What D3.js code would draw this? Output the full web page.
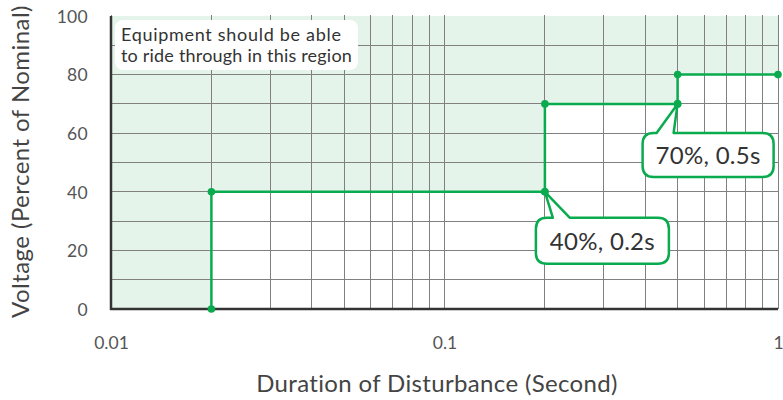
<!DOCTYPE html>
<html><head><meta charset="utf-8">
<script src="https://cdn.jsdelivr.net/npm/d3@7"></script>
<style>
body{margin:0;background:#fff;}
svg{display:block;font-family:Lato,"Noto Sans",sans-serif;}
</style></head>
<body><svg id="c" width="783" height="400"></svg>
<script>
// ---- data ----
const durations = [0.02, 0.02, 0.2, 0.2, 0.5, 0.5, 1];   // seconds
const voltages  = [0, 40, 40, 70, 70, 80, 80];           // percent of nominal
const xTicks = [0.01, 0.1, 1];
const xTickLabels = ["0.01", "0.1", "1"];
const yTicks = [0, 20, 40, 60, 80, 100];
const callouts = [
  {x: 0.5, y: 70, label: "70%, 0.5s"},
  {x: 0.2, y: 40, label: "40%, 0.2s"}
];
const regionText = ["Equipment should be able", "to ride through in this region"];
const xTitle = "Duration of Disturbance (Second)";
const yTitle = "Voltage (Percent of Nominal)";

// ---- layout ----
const W = 783, H = 400;
const m = {l: 111, r: 5, t: 16, b: 91};
const svg = d3.select("#c");
const x = d3.scaleLog().domain([0.01, 1]).range([m.l, W - m.r]);
const y = d3.scaleLinear().domain([0, 100]).range([H - m.b, m.t]);
const green = "#0aab4f";

// shaded region (above/left of the curve)
const pts = durations.map((d, i) => [d, voltages[i]]);
svg.append("path")
  .attr("d", d3.line().x(d => x(d[0])).y(d => y(d[1]))(
    [[0.01, 0]].concat(pts).concat([[1, 100], [0.01, 100]])))
  .attr("fill", "#e4f4ea");

// grid
const vGrid = [];
for (let dec of [0.01, 0.1]) for (let k = 1; k <= 10; k++) vGrid.push(dec * k);
svg.append("g").selectAll("line").data(vGrid).join("line")
  .attr("x1", d => x(d)).attr("x2", d => x(d))
  .attr("y1", y(100) - 1).attr("y2", y(0))
  .attr("stroke", "#808080").attr("stroke-width", 1).attr("shape-rendering", "crispEdges");
svg.append("g").selectAll("line").data(d3.range(10, 100, 10)).join("line")
  .attr("x1", x(0.01)).attr("x2", x(1))
  .attr("y1", d => y(d)).attr("y2", d => y(d))
  .attr("stroke", "#808080").attr("stroke-width", 1).attr("shape-rendering", "crispEdges");

// axes lines
svg.append("line").attr("x1", x(0.01)).attr("x2", x(0.01)).attr("y1", y(100)).attr("y2", y(0) + 1)
  .attr("stroke", "#333").attr("stroke-width", 2.5);
svg.append("line").attr("x1", x(0.01) - 1).attr("x2", x(1)).attr("y1", y(0)).attr("y2", y(0))
  .attr("stroke", "#333").attr("stroke-width", 2.5);

// tick labels
const xAxis = d3.axisBottom(x).tickValues(xTicks).tickFormat((d, i) => xTickLabels[i]).tickSize(0).tickPadding(0);
const gx = svg.append("g").attr("transform", `translate(0,${y(0) + 33.5})`).call(xAxis);
gx.select(".domain").remove();
gx.selectAll("text").attr("font-size", 17.5).attr("fill", "#555").attr("font-family", "Lato,sans-serif")
  .attr("y", 0).attr("dy", "0.36em");
const yAxis = d3.axisLeft(y).tickValues(yTicks).tickSize(0).tickPadding(0);
const gy = svg.append("g").attr("transform", `translate(${x(0.01) - 23},0)`).call(yAxis);
gy.select(".domain").remove();
gy.selectAll("text").attr("font-size", 17.5).attr("fill", "#555").attr("font-family", "Lato,sans-serif")
  .attr("dy", "0.36em").attr("letter-spacing", 0.3);

// axis titles
svg.append("text").attr("x", 437).attr("y", 391.5)
  .attr("text-anchor", "middle").attr("font-size", 24).attr("letter-spacing", 0.35)
  .attr("fill", "#444").text(xTitle);
svg.append("text").attr("transform", `translate(29,${161.5}) rotate(-90)`)
  .attr("text-anchor", "middle").attr("font-size", 24).attr("letter-spacing", 0.45)
  .attr("fill", "#444").text(yTitle);

// region note
svg.append("rect").attr("x", x(0.01) + 4).attr("y", y(100) + 4).attr("width", 243).attr("height", 50)
  .attr("rx", 8).attr("fill", "#fff");
const noteSpacing = [0.7, 0.2];
svg.append("g").selectAll("text").data(regionText).join("text")
  .attr("x", x(0.01) + 10).attr("y", (d, i) => y(100) + 24.5 + i * 21)
  .attr("font-size", 18).attr("letter-spacing", (d, i) => noteSpacing[i]).attr("fill", "#333").text(d => d);

// curve
svg.append("path").attr("d", d3.line().x(d => x(d[0])).y(d => y(d[1]))(pts))
  .attr("fill", "none").attr("stroke", green).attr("stroke-width", 2.5);
svg.append("g").selectAll("circle").data(pts).join("circle")
  .attr("cx", d => x(d[0])).attr("cy", d => y(d[1])).attr("r", 3.8).attr("fill", green);

// callouts
const boxes = [
  {dx: -35, dy: 29, w: 131, h: 44, b0: -21, b1: -4},
  {dx: -9, dy: 26, w: 133, h: 46, b0: 8, b1: 25}
];
function calloutPath(px, py, b) {
  const L = px + b.dx, T = py + b.dy, R = L + b.w, B = T + b.h, r = 11;
  return `M${L + r},${T} L${px + b.b0},${T} L${px},${py} L${px + b.b1},${T} L${R - r},${T}
    Q${R},${T} ${R},${T + r} L${R},${B - r} Q${R},${B} ${R - r},${B} L${L + r},${B}
    Q${L},${B} ${L},${B - r} L${L},${T + r} Q${L},${T} ${L + r},${T} Z`;
}
callouts.forEach((c, i) => {
  const px = x(c.x), py = y(c.y), b = boxes[i];
  svg.append("path").attr("d", calloutPath(px, py, b))
    .attr("fill", "#fff").attr("stroke", green).attr("stroke-width", 2.5).attr("stroke-linejoin", "round");
  svg.append("text").attr("x", px + b.dx + b.w / 2).attr("y", py + b.dy + b.h / 2 + 9)
    .attr("text-anchor", "middle").attr("font-size", 24).attr("letter-spacing", 0.3)
    .attr("fill", "#333").text(c.label);
  svg.append("circle").attr("cx", px).attr("cy", py).attr("r", 3.8).attr("fill", green);
});
</script></body></html>
